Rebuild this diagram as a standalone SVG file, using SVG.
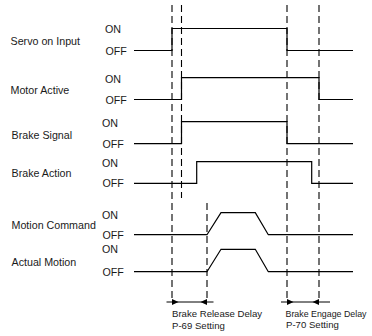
<svg xmlns="http://www.w3.org/2000/svg" width="372" height="336" viewBox="0 0 372 336">
<style>
.lbl{font-family:"Liberation Sans",Arial,sans-serif;font-size:10.7px;fill:#1a1a1a}
.sm{font-family:"Liberation Sans",Arial,sans-serif;font-size:9.6px;fill:#1a1a1a}
.sig{fill:none;stroke:#000;stroke-width:1.2}
.dash{fill:none;stroke:#000;stroke-width:1.1;stroke-dasharray:7,4}
.dim{fill:none;stroke:#000;stroke-width:1}
.ah{fill:#000}
</style>
<rect width="372" height="336" fill="#fff"/>
<g id="servo">
<text class="lbl" x="10.5" y="45">Servo on Input</text>
<text class="lbl" x="105" y="32.5">ON</text>
<text class="lbl" x="105.5" y="55">OFF</text>
<polyline class="sig" points="134,50.5 172,50.5 172,28.5 287,28.5 287,50.5 353,50.5"/>
</g>
<g id="motor">
<text class="lbl" x="10.5" y="94">Motor Active</text>
<text class="lbl" x="105" y="83.3">ON</text>
<text class="lbl" x="105.5" y="104">OFF</text>
<polyline class="sig" points="134,99.5 181.5,99.5 181.5,77.7 319,77.7 319,99.5 353,99.5"/>
</g>
<g id="brakesignal">
<text class="lbl" x="11.5" y="138.7">Brake Signal</text>
<text class="lbl" x="102" y="126.7">ON</text>
<text class="lbl" x="102.5" y="148.3">OFF</text>
<polyline class="sig" points="134,143.7 181.5,143.7 181.5,121.7 287,121.7 287,143.7 353,143.7"/>
</g>
<g id="brakeaction">
<text class="lbl" x="11.5" y="177.3">Brake Action</text>
<text class="lbl" x="102" y="166.5">ON</text>
<text class="lbl" x="102.5" y="187.3">OFF</text>
<polyline class="sig" points="134,183.3 196.7,183.3 196.7,161.7 311.7,161.7 311.7,183.3 353,183.3"/>
</g>
<g id="motioncommand">
<text class="lbl" x="11.5" y="229">Motion Command</text>
<text class="lbl" x="102" y="219">ON</text>
<text class="lbl" x="102.5" y="239">OFF</text>
<polyline class="sig" points="134,234.7 207,234.7 221,212.7 255.3,212.7 268.3,234.7 353,234.7"/>
</g>
<g id="actualmotion">
<text class="lbl" x="11.5" y="265.7">Actual Motion</text>
<text class="lbl" x="102" y="253.3">ON</text>
<text class="lbl" x="102.5" y="275.7">OFF</text>
<polyline class="sig" points="134,271.7 207,271.7 221,249.3 255.3,249.3 268.3,271.7 353,271.7"/>
</g>
<g id="connectors">
<line class="dash" x1="172" y1="5" x2="172" y2="300"/>
<line class="dash" x1="181.5" y1="5" x2="181.5" y2="198"/>
<line class="dash" x1="287" y1="5" x2="287" y2="300"/>
<line class="dash" x1="319" y1="5" x2="319" y2="300"/>
<line class="dash" x1="207" y1="203" x2="207" y2="300"/>
<line class="dim" x1="166.5" y1="302" x2="213.5" y2="302"/>
<polygon class="ah" points="172,299 178.5,302 172,305"/>
<polygon class="ah" points="207,299 200.5,302 207,305"/>
<line class="dim" x1="281" y1="302" x2="330" y2="302"/>
<polygon class="ah" points="287,299 293.5,302 287,305"/>
<polygon class="ah" points="319,299 312.5,302 319,305"/>
</g>
<g id="delays">
<text class="sm" x="172" y="316.7">Brake Release Delay</text>
<text class="sm" x="172" y="328.5">P-69 Setting</text>
<text class="sm" x="285.5" y="316.5" textLength="81" lengthAdjust="spacingAndGlyphs">Brake Engage Delay</text>
<text class="sm" x="286" y="328.3">P-70 Setting</text>
</g>
</svg>
